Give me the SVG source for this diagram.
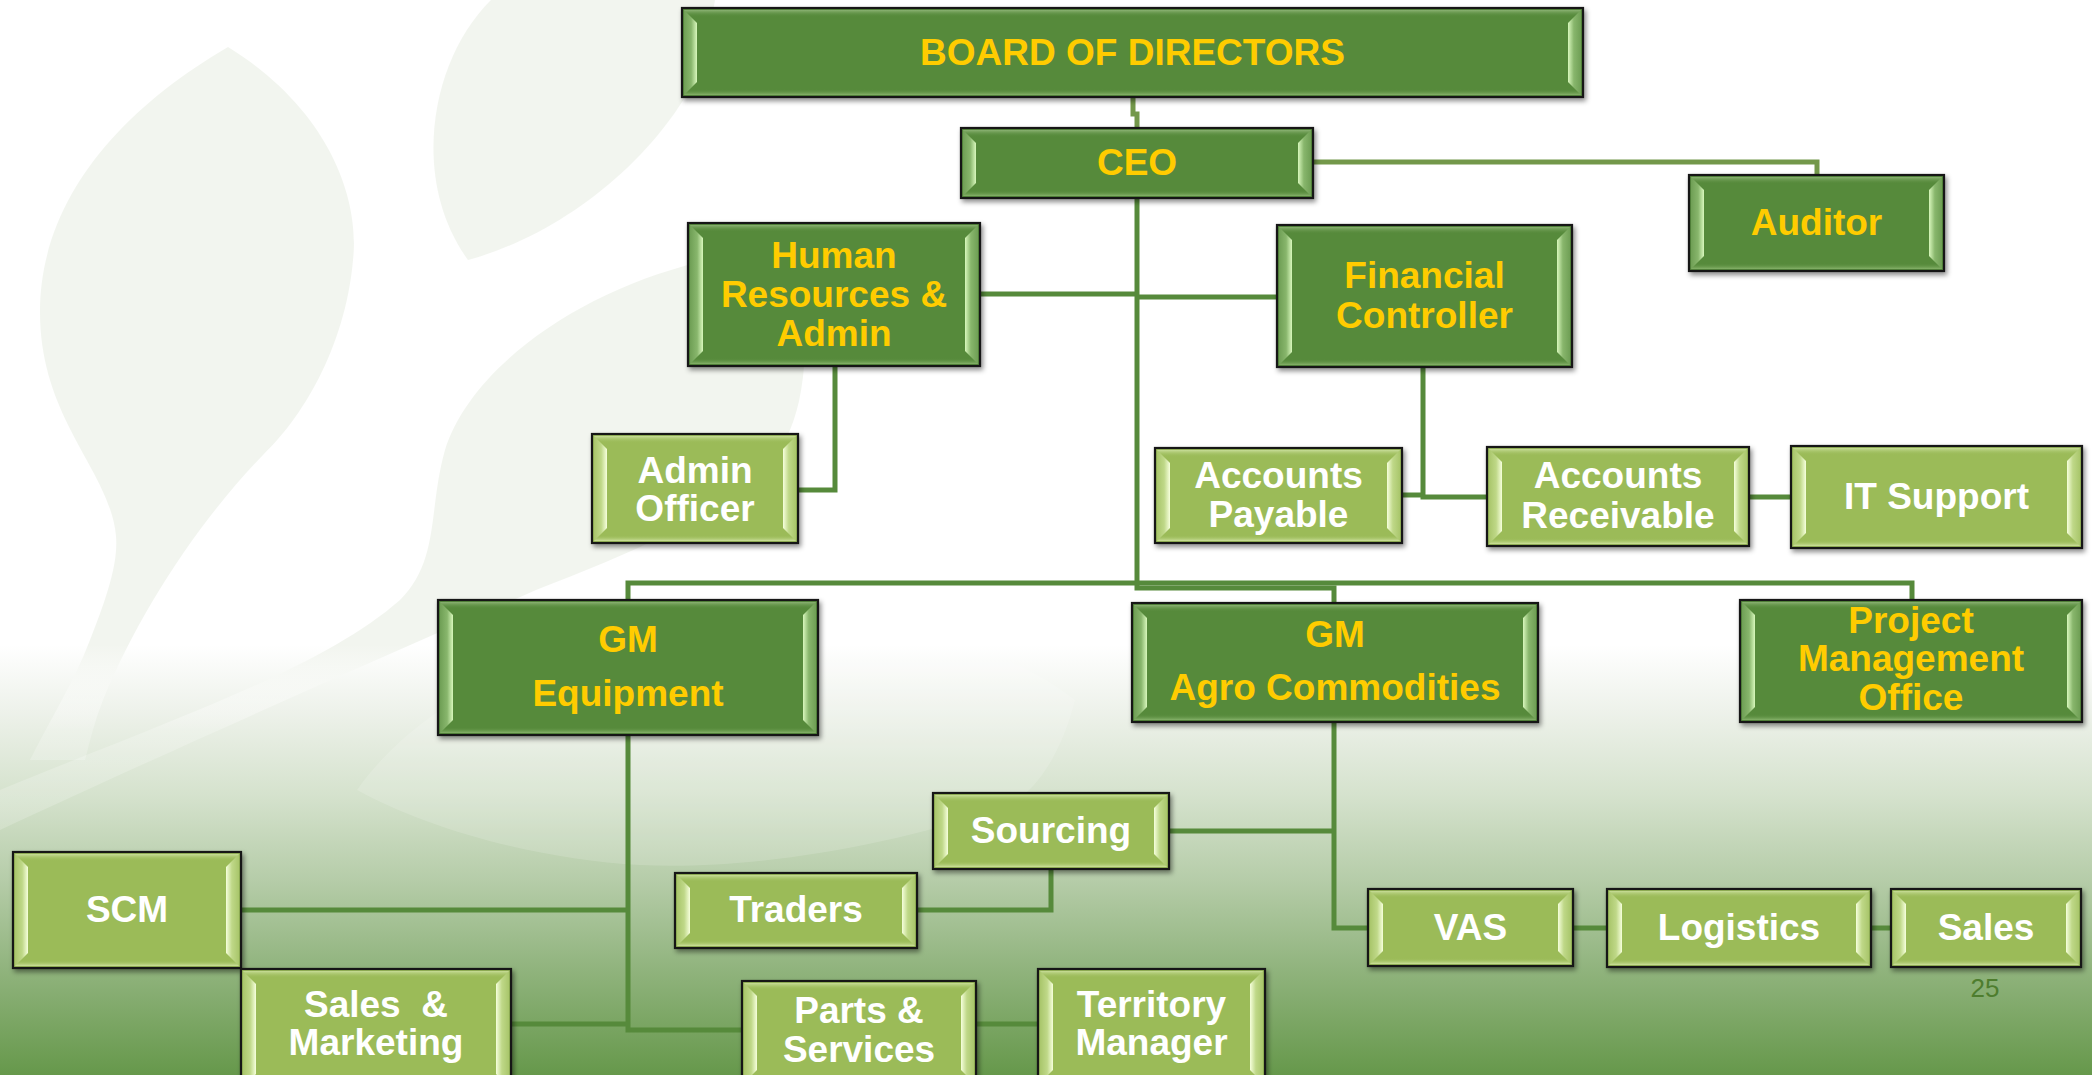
<svg xmlns="http://www.w3.org/2000/svg" width="2092" height="1075" viewBox="0 0 2092 1075">
<defs>
<linearGradient id="bg" gradientUnits="userSpaceOnUse" x1="0" y1="0" x2="0" y2="1075">
<stop offset="0" stop-color="#ffffff"/>
<stop offset="0.6" stop-color="#ffffff"/>
<stop offset="0.66" stop-color="#eef2eb"/>
<stop offset="0.74" stop-color="#d5e2cd"/>
<stop offset="0.82" stop-color="#b5cca8"/>
<stop offset="0.9" stop-color="#91b47e"/>
<stop offset="1" stop-color="#66984b"/>
</linearGradient>
<linearGradient id="leaf" gradientUnits="userSpaceOnUse" x1="0" y1="0" x2="0" y2="1075">
<stop offset="0" stop-color="#f2f5ef"/>
<stop offset="0.6" stop-color="#f2f5ef"/>
<stop offset="0.68" stop-color="#ffffff" stop-opacity="0.22"/>
<stop offset="1" stop-color="#ffffff" stop-opacity="0.08"/>
</linearGradient>
<linearGradient id="dkL" x1="0" y1="0" x2="1" y2="0"><stop offset="0" stop-color="#6f9f55"/><stop offset="0.55" stop-color="#88b66c"/><stop offset="1" stop-color="#d8f7bc"/></linearGradient>
<linearGradient id="dkR" x1="1" y1="0" x2="0" y2="0"><stop offset="0" stop-color="#6f9f55"/><stop offset="0.55" stop-color="#88b66c"/><stop offset="1" stop-color="#d8f7bc"/></linearGradient>
<linearGradient id="ltL" x1="0" y1="0" x2="1" y2="0"><stop offset="0" stop-color="#a9c66b"/><stop offset="0.55" stop-color="#bfd888"/><stop offset="1" stop-color="#f6ffdc"/></linearGradient>
<linearGradient id="ltR" x1="1" y1="0" x2="0" y2="0"><stop offset="0" stop-color="#a9c66b"/><stop offset="0.55" stop-color="#bfd888"/><stop offset="1" stop-color="#f6ffdc"/></linearGradient>
<linearGradient id="dkTop" x1="0" y1="0" x2="0" y2="1"><stop offset="0" stop-color="#8bb273"/><stop offset="1" stop-color="#568a3b" stop-opacity="0"/></linearGradient>
<linearGradient id="dkBot" x1="0" y1="0" x2="0" y2="1"><stop offset="0" stop-color="#568a3b" stop-opacity="0"/><stop offset="1" stop-color="#86b26a"/></linearGradient>
<linearGradient id="ltTop" x1="0" y1="0" x2="0" y2="1"><stop offset="0" stop-color="#c8dd98"/><stop offset="1" stop-color="#9bbb59" stop-opacity="0"/></linearGradient>
<linearGradient id="ltBot" x1="0" y1="0" x2="0" y2="1"><stop offset="0" stop-color="#9bbb59" stop-opacity="0"/><stop offset="1" stop-color="#cde19c"/></linearGradient>
<filter id="sh" x="-5%" y="-10%" width="115%" height="130%">
<feDropShadow dx="2" dy="3" stdDeviation="2.5" flood-color="#000000" flood-opacity="0.45"/>
</filter>
<style>
.box{stroke:#141414;stroke-width:2.2;filter:url(#sh)}
.dark .box{fill:#568a3b}
.light .box{fill:#9bbb59}
.dark .bl{fill:url(#dkL)} .dark .br{fill:url(#dkR)}
.light .bl{fill:url(#ltL)} .light .br{fill:url(#ltR)}
.dark .tp{fill:url(#dkTop)} .dark .bt{fill:url(#dkBot)}
.light .tp{fill:url(#ltTop)} .light .bt{fill:url(#ltBot)}
text{font-family:"Liberation Sans",Arial,Helvetica,sans-serif;font-weight:bold;font-size:37px;text-anchor:middle}
.dark text{fill:#ffcc00}
.light text{fill:#ffffff}
.conn path{fill:none;stroke:#568a3b;stroke-width:5;stroke-linejoin:miter}
.conn path.ol{stroke:#73984a}
.num{font-weight:normal;font-size:26px;fill:#4e7d2e}
</style>
</defs>

<g id="background">
<rect x="0" y="0" width="2092" height="1075" fill="url(#bg)"/>
<path fill="url(#leaf)" d="M228 47 C330 110 360 200 353 260 C345 350 300 420 263 455 C200 520 140 610 103 700 C95 720 90 740 85 760 L30 760 C50 720 75 680 90 640 C110 590 118 560 116 536 C110 470 40 420 40 312 C40 200 120 110 228 47 Z"/>
<path fill="url(#leaf)" d="M491 0 C430 60 410 180 468 260 C560 235 660 160 705 60 L715 0 Z"/>
<path fill="url(#leaf)" d="M700 262 C575 292 470 370 445 450 C428 510 440 560 400 600 C320 670 170 720 0 790 L0 830 C150 760 330 680 536 590 C640 550 760 500 790 430 C805 395 810 340 800 262 Z"/>
<path fill="#ffffff" fill-opacity="0.15" d="M357 790 C420 700 560 630 720 615 C860 605 1000 640 1075 700 C1060 760 1030 800 1000 808 C880 850 740 870 640 865 C540 860 430 830 357 790 Z"/>
</g>

<g id="connectors" class="conn">
<path class="ol" d="M1133 97 V114 H1137 V128"/>
<path class="ol" d="M1313 162 H1817 V175"/>
<path d="M1137 198 V588 H1334 V603"/>
<path d="M980 294 H1137"/>
<path d="M1137 297 H1277"/>
<path d="M835 366 V490 H798"/>
<path d="M1423 367 V497 H1487"/>
<path d="M1402 495 H1423"/>
<path d="M1749 497 H1791"/>
<path d="M628 600 V583 H1912 V600"/>
<path d="M628 735 V1030 H742"/>
<path d="M241 910 H628"/>
<path d="M511 1024 H628"/>
<path d="M976 1024 H1038"/>
<path d="M1334 722 V928 H1368"/>
<path d="M1169 831 H1334"/>
<path d="M1051 869 V910 H917"/>
<path d="M1573 928 H1607"/>
<path d="M1871 928 H1891"/>
</g>

<g id="board" class="node dark">
<rect class="box" x="682" y="8" width="901" height="89"/>
<rect class="tp" x="684" y="10" width="897" height="7"/><rect class="bt" x="684" y="89" width="897" height="6"/>
<polygon class="bl" points="684,10 697,23 697,82 684,95"/>
<polygon class="br" points="1581,10 1568,23 1568,82 1581,95"/>
<text x="1132.5" y="65">BOARD OF DIRECTORS</text>
</g>

<g id="ceo" class="node dark">
<rect class="box" x="961" y="128" width="352" height="70"/>
<rect class="tp" x="963" y="130" width="348" height="7"/><rect class="bt" x="963" y="190" width="348" height="6"/>
<polygon class="bl" points="963,130 976,143 976,183 963,196"/>
<polygon class="br" points="1311,130 1298,143 1298,183 1311,196"/>
<text x="1137" y="175">CEO</text>
</g>

<g id="auditor" class="node dark">
<rect class="box" x="1689" y="175" width="255" height="96"/>
<rect class="tp" x="1691" y="177" width="251" height="7"/><rect class="bt" x="1691" y="263" width="251" height="6"/>
<polygon class="bl" points="1691,177 1704,190 1704,256 1691,269"/>
<polygon class="br" points="1942,177 1929,190 1929,256 1942,269"/>
<text x="1816.5" y="235">Auditor</text>
</g>

<g id="hr-admin" class="node dark">
<rect class="box" x="688" y="223" width="292" height="143"/>
<rect class="tp" x="690" y="225" width="288" height="7"/><rect class="bt" x="690" y="358" width="288" height="6"/>
<polygon class="bl" points="690,225 703,238 703,351 690,364"/>
<polygon class="br" points="978,225 965,238 965,351 978,364"/>
<text x="834" y="268">Human</text>
<text x="834" y="307">Resources &amp;</text>
<text x="834" y="346">Admin</text>
</g>

<g id="financial-controller" class="node dark">
<rect class="box" x="1277" y="225" width="295" height="142"/>
<rect class="tp" x="1279" y="227" width="291" height="7"/><rect class="bt" x="1279" y="359" width="291" height="6"/>
<polygon class="bl" points="1279,227 1292,240 1292,352 1279,365"/>
<polygon class="br" points="1570,227 1557,240 1557,352 1570,365"/>
<text x="1424.5" y="288">Financial</text>
<text x="1424.5" y="328">Controller</text>
</g>

<g id="admin-officer" class="node light">
<rect class="box" x="592" y="434" width="206" height="109"/>
<rect class="tp" x="594" y="436" width="202" height="7"/><rect class="bt" x="594" y="535" width="202" height="6"/>
<polygon class="bl" points="594,436 607,449 607,528 594,541"/>
<polygon class="br" points="796,436 783,449 783,528 796,541"/>
<text x="695" y="483">Admin</text>
<text x="695" y="521">Officer</text>
</g>

<g id="accounts-payable" class="node light">
<rect class="box" x="1155" y="448" width="247" height="95"/>
<rect class="tp" x="1157" y="450" width="243" height="7"/><rect class="bt" x="1157" y="535" width="243" height="6"/>
<polygon class="bl" points="1157,450 1170,463 1170,528 1157,541"/>
<polygon class="br" points="1400,450 1387,463 1387,528 1400,541"/>
<text x="1278.5" y="488">Accounts</text>
<text x="1278.5" y="527">Payable</text>
</g>

<g id="accounts-receivable" class="node light">
<rect class="box" x="1487" y="447" width="262" height="99"/>
<rect class="tp" x="1489" y="449" width="258" height="7"/><rect class="bt" x="1489" y="538" width="258" height="6"/>
<polygon class="bl" points="1489,449 1502,462 1502,531 1489,544"/>
<polygon class="br" points="1747,449 1734,462 1734,531 1747,544"/>
<text x="1618" y="488">Accounts</text>
<text x="1618" y="528">Receivable</text>
</g>

<g id="it-support" class="node light">
<rect class="box" x="1791" y="446" width="291" height="102"/>
<rect class="tp" x="1793" y="448" width="287" height="7"/><rect class="bt" x="1793" y="540" width="287" height="6"/>
<polygon class="bl" points="1793,448 1806,461 1806,533 1793,546"/>
<polygon class="br" points="2080,448 2067,461 2067,533 2080,546"/>
<text x="1936.5" y="509">IT Support</text>
</g>

<g id="gm-equipment" class="node dark">
<rect class="box" x="438" y="600" width="380" height="135"/>
<rect class="tp" x="440" y="602" width="376" height="7"/><rect class="bt" x="440" y="727" width="376" height="6"/>
<polygon class="bl" points="440,602 453,615 453,720 440,733"/>
<polygon class="br" points="816,602 803,615 803,720 816,733"/>
<text x="628" y="652">GM</text>
<text x="628" y="706">Equipment</text>
</g>

<g id="gm-agro" class="node dark">
<rect class="box" x="1132" y="603" width="406" height="119"/>
<rect class="tp" x="1134" y="605" width="402" height="7"/><rect class="bt" x="1134" y="714" width="402" height="6"/>
<polygon class="bl" points="1134,605 1147,618 1147,707 1134,720"/>
<polygon class="br" points="1536,605 1523,618 1523,707 1536,720"/>
<text x="1335" y="647">GM</text>
<text x="1335" y="700">Agro Commodities</text>
</g>

<g id="pmo" class="node dark">
<rect class="box" x="1740" y="600" width="342" height="122"/>
<rect class="tp" x="1742" y="602" width="338" height="7"/><rect class="bt" x="1742" y="714" width="338" height="6"/>
<polygon class="bl" points="1742,602 1755,615 1755,707 1742,720"/>
<polygon class="br" points="2080,602 2067,615 2067,707 2080,720"/>
<text x="1911" y="633">Project</text>
<text x="1911" y="671">Management</text>
<text x="1911" y="710">Office</text>
</g>

<g id="sourcing" class="node light">
<rect class="box" x="933" y="793" width="236" height="76"/>
<rect class="tp" x="935" y="795" width="232" height="7"/><rect class="bt" x="935" y="861" width="232" height="6"/>
<polygon class="bl" points="935,795 948,808 948,854 935,867"/>
<polygon class="br" points="1167,795 1154,808 1154,854 1167,867"/>
<text x="1051" y="843">Sourcing</text>
</g>

<g id="traders" class="node light">
<rect class="box" x="675" y="873" width="242" height="75"/>
<rect class="tp" x="677" y="875" width="238" height="7"/><rect class="bt" x="677" y="940" width="238" height="6"/>
<polygon class="bl" points="677,875 690,888 690,933 677,946"/>
<polygon class="br" points="915,875 902,888 902,933 915,946"/>
<text x="796" y="922">Traders</text>
</g>

<g id="scm" class="node light">
<rect class="box" x="13" y="852" width="228" height="116"/>
<rect class="tp" x="15" y="854" width="224" height="7"/><rect class="bt" x="15" y="960" width="224" height="6"/>
<polygon class="bl" points="15,854 28,867 28,953 15,966"/>
<polygon class="br" points="239,854 226,867 226,953 239,966"/>
<text x="127" y="922">SCM</text>
</g>

<g id="sales-marketing" class="node light">
<rect class="box" x="241" y="969" width="270" height="120"/>
<rect class="tp" x="243" y="971" width="266" height="7"/>
<polygon class="bl" points="243,971 256,984 256,1074 243,1087"/>
<polygon class="br" points="509,971 496,984 496,1074 509,1087"/>
<text x="376" y="1017" xml:space="preserve">Sales  &amp;</text>
<text x="376" y="1055">Marketing</text>
</g>

<g id="parts-services" class="node light">
<rect class="box" x="742" y="981" width="234" height="104"/>
<rect class="tp" x="744" y="983" width="230" height="7"/>
<polygon class="bl" points="744,983 757,996 757,1070 744,1083"/>
<polygon class="br" points="974,983 961,996 961,1070 974,1083"/>
<text x="859" y="1023">Parts &amp;</text>
<text x="859" y="1062">Services</text>
</g>

<g id="territory-manager" class="node light">
<rect class="box" x="1038" y="969" width="227" height="116"/>
<rect class="tp" x="1040" y="971" width="223" height="7"/>
<polygon class="bl" points="1040,971 1053,984 1053,1070 1040,1083"/>
<polygon class="br" points="1263,971 1250,984 1250,1070 1263,1083"/>
<text x="1151.5" y="1017">Territory</text>
<text x="1151.5" y="1055">Manager</text>
</g>

<g id="vas" class="node light">
<rect class="box" x="1368" y="889" width="205" height="77"/>
<rect class="tp" x="1370" y="891" width="201" height="7"/><rect class="bt" x="1370" y="958" width="201" height="6"/>
<polygon class="bl" points="1370,891 1383,904 1383,951 1370,964"/>
<polygon class="br" points="1571,891 1558,904 1558,951 1571,964"/>
<text x="1470.5" y="940">VAS</text>
</g>

<g id="logistics" class="node light">
<rect class="box" x="1607" y="889" width="264" height="78"/>
<rect class="tp" x="1609" y="891" width="260" height="7"/><rect class="bt" x="1609" y="959" width="260" height="6"/>
<polygon class="bl" points="1609,891 1622,904 1622,952 1609,965"/>
<polygon class="br" points="1869,891 1856,904 1856,952 1869,965"/>
<text x="1739" y="940">Logistics</text>
</g>

<g id="sales" class="node light">
<rect class="box" x="1891" y="889" width="190" height="78"/>
<rect class="tp" x="1893" y="891" width="186" height="7"/><rect class="bt" x="1893" y="959" width="186" height="6"/>
<polygon class="bl" points="1893,891 1906,904 1906,952 1893,965"/>
<polygon class="br" points="2079,891 2066,904 2066,952 2079,965"/>
<text x="1986" y="940">Sales</text>
</g>

<text class="num" x="1985" y="997">25</text>
</svg>
